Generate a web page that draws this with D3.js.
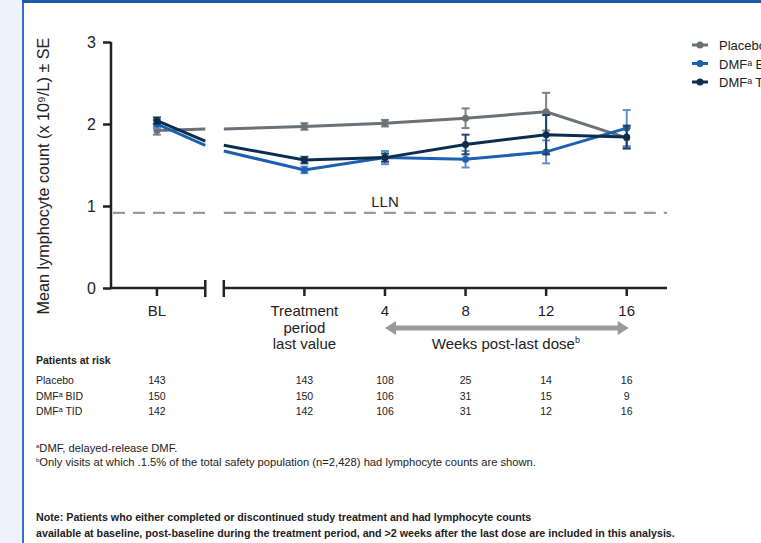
<!DOCTYPE html>
<html>
<head>
<meta charset="utf-8">
<script src="https://cdn.jsdelivr.net/npm/d3@7"></script>
<style>
  body { margin: 0; background: #fff; }
  svg { display: block; font-family: "Liberation Sans", Arial, sans-serif; }
</style>
</head>
<body>
<svg width="761" height="543"></svg>
<script>
// x positions in "visit slots": Tx last value = 0, week 4 = 1 ...
var xTicks = [
  {pos: -1.83, label: ["BL"]},
  {pos: 0, label: ["Treatment", "period", "last value"]},
  {pos: 1, label: ["4"]},
  {pos: 2, label: ["8"]},
  {pos: 3, label: ["12"]},
  {pos: 4, label: ["16"]}
];
var breakLeft = -1.23, breakRight = -1.0;

var seriesNames = ["Placebo", "DMF\u1d43 BID", "DMF\u1d43 TID"];
var seriesColors = ["#6b7176", "#1d5fb0", "#0c2e4e"];
var errColors = ["#7c8286", "#5d8fcf", "#1f4468"];

// mean values at BL, Tx, 4, 8, 12, 16
var placeboMean = [1.92, 1.97, 2.01, 2.07, 2.15, 1.83];
var bidMean = [2.00, 1.44, 1.59, 1.57, 1.66, 1.95];
var tidMean = [2.04, 1.56, 1.59, 1.75, 1.87, 1.84];
var placeboSE = [0.05, 0.04, 0.04, 0.12, 0.23, 0.12];
var bidSE = [0.05, 0.04, 0.08, 0.10, 0.14, 0.22];
var tidSE = [0.04, 0.04, 0.05, 0.12, 0.24, 0.14];
// line values where the axis break cuts the curves
var atBreakLeft = [1.94, 1.74, 1.79];
var atBreakRight = [1.94, 1.67, 1.74];

var lln = 0.915;

var riskCols = ["BL", "Tx", "4", "8", "12", "16"];
var riskPlacebo = [143, 143, 108, 25, 14, 16];
var riskBID = [150, 150, 106, 31, 15, 9];
var riskTID = [142, 142, 106, 31, 12, 16];

var svg = d3.select("svg");

// page frame
svg.append("rect").attr("x", 0).attr("y", 0).attr("width", 22).attr("height", 543).attr("fill", "#eef2fa");
svg.append("rect").attr("x", 22).attr("y", 0).attr("width", 2).attr("height", 543).attr("fill", "#3a6fc0");
svg.append("rect").attr("x", 22).attr("y", 0).attr("width", 739).attr("height", 3).attr("fill", "#1f5aa8");

var x = d3.scaleLinear().domain([-2.4, 4.5]).range([111, 667]);
var y = d3.scaleLinear().domain([0, 3]).range([288, 42]);

var g = svg.append("g");

// y axis
var yAxis = d3.axisLeft(y).tickValues([0, 1, 2, 3]).tickFormat(d3.format("d")).tickSize(8).tickPadding(7);
var ya = g.append("g").attr("transform", "translate(111,0)").call(yAxis);
ya.select(".domain").attr("stroke", "#222").attr("stroke-width", 2.5).attr("d", "M0,288V42");
ya.selectAll(".tick line").attr("stroke", "#222").attr("stroke-width", 2.5);
ya.selectAll(".tick text").attr("font-size", 16).attr("fill", "#222").attr("font-family", "Liberation Sans, Arial");

// x axis drawn with a break
var xa = g.append("g").attr("class", "xaxis");
xa.append("line").attr("x1", 110).attr("x2", x(breakLeft)).attr("y1", 288).attr("y2", 288)
  .attr("stroke", "#222").attr("stroke-width", 2.5);
xa.append("line").attr("x1", x(breakRight)).attr("x2", 667).attr("y1", 288).attr("y2", 288)
  .attr("stroke", "#222").attr("stroke-width", 2.5);
[breakLeft, breakRight].forEach(function(b) {
  xa.append("line").attr("x1", x(b)).attr("x2", x(b)).attr("y1", 280).attr("y2", 297)
    .attr("stroke", "#222").attr("stroke-width", 2.5);
});
xTicks.forEach(function(t) {
  xa.append("line").attr("x1", x(t.pos)).attr("x2", x(t.pos)).attr("y1", 288).attr("y2", 296)
    .attr("stroke", "#222").attr("stroke-width", 2.5);
  var txt = xa.append("text").attr("x", x(t.pos)).attr("y", 316)
    .attr("text-anchor", "middle").attr("font-size", 15).attr("fill", "#222");
  t.label.forEach(function(l, i) {
    txt.append("tspan").attr("x", x(t.pos)).attr("dy", i == 0 ? 0 : 16.5).text(l);
  });
});

// y label
g.append("text")
  .attr("transform", "translate(49,176) rotate(-90)")
  .attr("text-anchor", "middle").attr("font-size", 16.2).attr("fill", "#222")
  .text("Mean lymphocyte count (x 10\u2079/L) \u00b1 SE");

// LLN line
var llnStyle = function(sel) {
  sel.attr("stroke", "#999").attr("stroke-width", 2.2).attr("stroke-dasharray", "12,8");
};
g.append("line").attr("x1", 113).attr("x2", x(breakLeft)).attr("y1", y(lln)).attr("y2", y(lln)).call(llnStyle);
g.append("line").attr("x1", x(breakRight)).attr("x2", 667).attr("y1", y(lln)).attr("y2", y(lln)).call(llnStyle);
g.append("text").attr("x", x(1)).attr("y", y(lln) - 6).attr("text-anchor", "middle")
  .attr("font-size", 15).attr("fill", "#222").text("LLN");

// series
var means = [placeboMean, bidMean, tidMean];
var ses = [placeboSE, bidSE, tidSE];
var positions = xTicks.map(function(t) { return t.pos; });
var line = d3.line().x(function(d) { return x(d[0]); }).y(function(d) { return y(d[1]); });

means.forEach(function(m, s) {
  var col = seriesColors[s];
  var sg = g.append("g");
  // error bars
  m.forEach(function(v, i) {
    var cx = x(positions[i]);
    var lo = y(v - ses[s][i]), hi = y(v + ses[s][i]);
    sg.append("line").attr("x1", cx).attr("x2", cx).attr("y1", lo).attr("y2", hi)
      .attr("stroke", errColors[s]).attr("stroke-width", 2);
    [lo, hi].forEach(function(yy) {
      sg.append("line").attr("x1", cx - 4).attr("x2", cx + 4).attr("y1", yy).attr("y2", yy)
        .attr("stroke", errColors[s]).attr("stroke-width", 2);
    });
  });
  var pre = [[positions[0], m[0]], [breakLeft, atBreakLeft[s]]];
  var post = [[breakRight, atBreakRight[s]]].concat(positions.slice(1).map(function(p, i) {
    return [p, m[i + 1]];
  }));
  [pre, post].forEach(function(seg) {
    sg.append("path").attr("d", line(seg)).attr("fill", "none")
      .attr("stroke", col).attr("stroke-width", 3);
  });
  sg.selectAll("circle").data(m).enter().append("circle")
    .attr("cx", function(d, i) { return x(positions[i]); })
    .attr("cy", function(d) { return y(d); })
    .attr("r", 3.5).attr("fill", col);
});

// legend (runs off the right edge, as in the source figure)
var legend = g.append("g").attr("transform", "translate(692,45)");
seriesNames.forEach(function(n, i) {
  var row = legend.append("g").attr("transform", "translate(0," + (i * 18.5) + ")");
  row.append("line").attr("x1", 0).attr("x2", 16).attr("stroke", seriesColors[i]).attr("stroke-width", 3);
  row.append("circle").attr("cx", 8).attr("r", 3.5).attr("fill", seriesColors[i]);
  row.append("text").attr("x", 27).attr("y", 5).attr("font-size", 13).attr("fill", "#222").text(n);
});

// arrow
var arrowY = 328, ax1 = x(1), ax2 = x(4) + 2;
g.append("line").attr("x1", ax1 + 8).attr("x2", ax2 - 8).attr("y1", arrowY).attr("y2", arrowY)
  .attr("stroke", "#999").attr("stroke-width", 5);
g.append("path").attr("fill", "#999")
  .attr("d", "M" + ax1 + "," + arrowY + "l11,-7v14z");
g.append("path").attr("fill", "#999")
  .attr("d", "M" + ax2 + "," + arrowY + "l-11,-7v14z");
var wk = g.append("text").attr("x", (x(1) + x(4)) / 2).attr("y", 349).attr("text-anchor", "middle")
  .attr("font-size", 15).attr("fill", "#222");
wk.append("tspan").text("Weeks post-last dose");
wk.append("tspan").attr("font-size", 9).attr("dy", -6).text("b");

// patients at risk
var narrow = "Liberation Sans Narrow, Arial Narrow, Liberation Sans, Arial";
var risk = g.append("g").attr("font-family", narrow).attr("fill", "#222");
risk.append("text").attr("x", 36).attr("y", 364).attr("font-size", 10.5).attr("font-weight", "bold")
  .text("Patients at risk");
var riskRows = [riskPlacebo, riskBID, riskTID];
riskRows.forEach(function(r, i) {
  var yy = 384 + i * 15.7;
  risk.append("text").attr("x", 36).attr("y", yy).attr("font-size", 10.5).text(seriesNames[i]);
  r.forEach(function(v, j) {
    risk.append("text").attr("x", x(positions[j])).attr("y", yy).attr("text-anchor", "middle")
      .attr("font-size", 10.5).text(v);
  });
});

// footnotes
var fn = g.append("g").attr("font-family", narrow).attr("fill", "#222").attr("font-size", 11.2);
var f1 = fn.append("text").attr("x", 36).attr("y", 452);
f1.append("tspan").attr("font-size", 6).attr("dy", -4).text("a");
f1.append("tspan").attr("dy", 4).text("DMF, delayed-release DMF.");
var f2 = fn.append("text").attr("x", 36).attr("y", 466);
f2.append("tspan").attr("font-size", 6).attr("dy", -4).text("b");
f2.append("tspan").attr("dy", 4).text("Only visits at which .1.5% of the total safety population (n=2,428) had lymphocyte counts are shown.");

var note = g.append("g").attr("font-family", narrow).attr("fill", "#222").attr("font-size", 10.7).attr("font-weight", "bold");
note.append("text").attr("x", 36).attr("y", 521)
  .text("Note: Patients who either completed or discontinued study treatment and had lymphocyte counts");
note.append("text").attr("x", 36).attr("y", 537)
  .text("available at baseline, post-baseline during the treatment period, and >2 weeks after the last dose are included in this analysis.");
</script>
</body>
</html>
